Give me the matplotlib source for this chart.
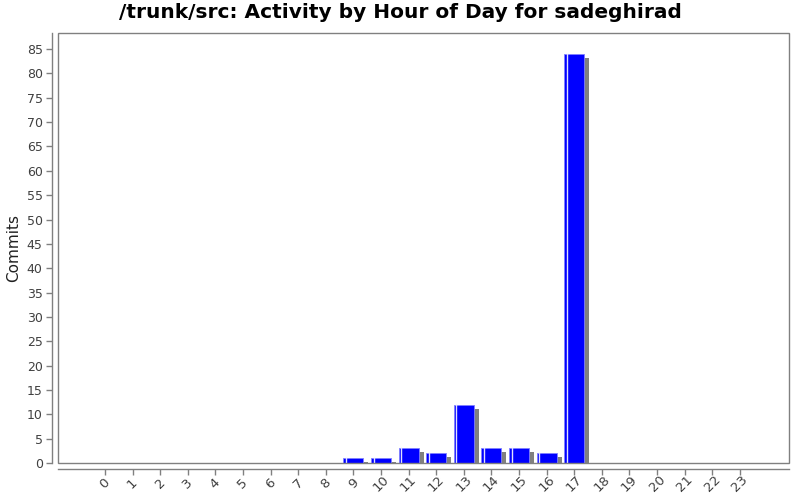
import numpy as np
import matplotlib.pyplot as plt
import matplotlib.transforms as mtransforms
from matplotlib.patches import Rectangle

# Data: commits per hour of day
hours = list(range(24))
commits = [0, 0, 0, 0, 0, 0, 0, 0, 0, 1, 1, 3, 2, 12, 3, 3, 2, 84, 0, 0, 0, 0, 0, 0]
y_ticks = list(range(0, 90, 5))

axis_gray = '#808080'
text_gray = '#404040'

fig = plt.figure(figsize=(8, 5), dpi=100)
ax = fig.add_axes([58 / 800, 37 / 500, 731 / 800, 430 / 500])

bar_w = 0.72
x = np.array(hours)
vals = np.array(commits)
nz = vals > 0

# shadow bars, shifted a few px right / down
shadow_tr = mtransforms.offset_copy(ax.transData, fig=fig, x=5, y=-4, units='dots')
ax.bar(x[nz], vals[nz], width=bar_w, color='#808080', transform=shadow_tr, zorder=2)

# main bars
ax.bar(x[nz], vals[nz], width=bar_w, color='#0000ff', edgecolor='#8080ff', linewidth=0.6, zorder=3)
# light highlight strip near the left edge of each bar
for xi, v in zip(x[nz], vals[nz]):
    ax.plot([xi - bar_w / 2 + 0.09, xi - bar_w / 2 + 0.09], [0, v], color='#e0e0ff', lw=1.0, zorder=4)

ax.set_xlim(-1.70, 23 + 1.78)
ax.set_ylim(0, 88.3)

# frame around plot area
ax.add_patch(Rectangle((0, 0), 1, 1, transform=ax.transAxes, fill=False,
                       edgecolor=axis_gray, lw=1.0, zorder=5, clip_on=False))

for s in ['top', 'right']:
    ax.spines[s].set_visible(False)
for s in ['left', 'bottom']:
    ax.spines[s].set_position(('outward', 4))
    ax.spines[s].set_color(axis_gray)
    ax.spines[s].set_linewidth(1.0)

ax.set_xticks(hours)
ax.set_xticklabels([str(h) for h in hours], rotation=45, ha='center', va='center',
                   rotation_mode='anchor', fontsize=9.5, color=text_gray)
ax.set_yticks(y_ticks)
ax.set_yticklabels([str(t) for t in y_ticks], fontsize=9, color=text_gray)
ax.tick_params(axis='both', length=4, color=axis_gray, width=1.0)
ax.tick_params(axis='x', pad=6.5)
ax.tick_params(axis='y', pad=3)

ax.set_ylabel('Commits', fontsize=11, color='#202020')
ax.yaxis.set_label_coords(-0.05, 0.5)
fig.suptitle('/trunk/src: Activity by Hour of Day for sadeghirad', fontsize=14.5,
             fontweight='bold', y=0.995, va='top')

fig.savefig('out.png', dpi=100)
